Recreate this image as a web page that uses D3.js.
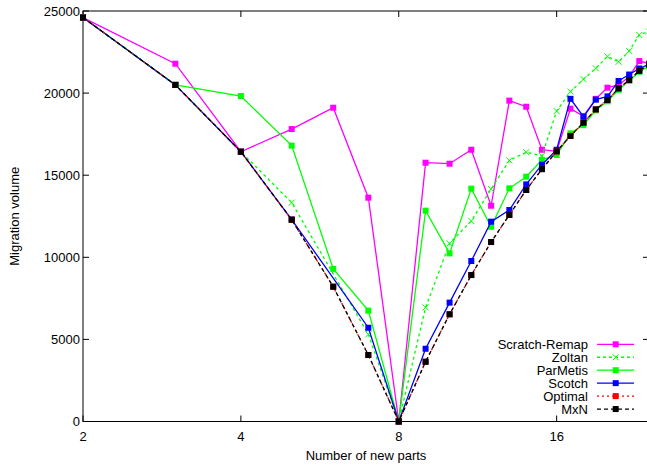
<!DOCTYPE html>
<meta charset="utf-8">
<body>
<script src="https://cdn.jsdelivr.net/npm/d3@7/dist/d3.min.js"></script>
<style>
    html, body {
        margin: 0;
        background: #fff;
    }
    text {
        font-family: "Liberation Sans", Arial, sans-serif;
        font-size: 13px;
        fill: #000;
    }
</style>
<script>
var parts = d3.range(2, 25);

var scratchRemap = [24600, 21790, 16430, 17810, 19110, 13630, 0, 15760, 15700, 16550, 13140, 19540,
    19170, 16550, 16450, 19050, 18600, 19650, 20330, 20500, 21000, 21950, 21800];
var zoltan = [24600, 20500, 16430, 13330, null, 5310, 0, 6950, 10850, 12210, 14160, 15900,
    16400, 16180, 18900, 20090, 20850, 21510, 22240, 21910, 22560, 23540, 23750];
var parMetis = [24600, 20500, 19820, 16800, 9290, 6750, 0, 12840, 10240, 14180, 11860, 14200,
    14910, 15930, 16230, 17550, 18050, 18950, 19500, 20200, 20750, 21300, 21650];
var scotch = [24600, 20500, 16430, 12300, null, 5710, 0, 4430, 7240, 9775, 12170, 12880,
    14440, 15640, 16550, 19650, 18560, 19600, 19800, 20740, 21130, 21500, 21750];
var optimal = [24600, 20500, 16430, 12290, 8210, 4050, 0, 3640, 6530, 8920, 10930, 12580,
    14100, 15370, 16450, 17390, 18200, 19010, 19580, 20290, 20800, 21360, 21750];
var mxn = optimal.slice();

var xTicks = [2, 4, 8, 16];
var yTicks = [0, 5000, 10000, 15000, 20000, 25000];

var series = [
    {name: "Scratch-Remap", values: scratchRemap, color: "#ff00ff", dash: null, mark: "square"},
    {name: "Zoltan", values: zoltan, color: "#00ff00", dash: "3,3", mark: "cross"},
    {name: "ParMetis", values: parMetis, color: "#00ff00", dash: null, mark: "square"},
    {name: "Scotch", values: scotch, color: "#0000ff", dash: null, mark: "square"},
    {name: "Optimal", values: optimal, color: "#ff0000", dash: "2,3", mark: "square"},
    {name: "MxN", values: mxn, color: "#000000", dash: "4,3", mark: "square"}
];

var width = 647, height = 466,
    pl = 83, pr = 649, pt = 11, pb = 421.5;

var x = d3.scaleLog().base(2).domain([2, 24]).range([pl, pr]);
var y = d3.scaleLinear().domain([0, 25000]).range([pb, pt]);

var svg = d3.select("body").append("svg")
    .attr("width", width)
    .attr("height", height);

svg.append("defs").append("clipPath").attr("id", "clip")
    .append("rect")
    .attr("x", pl - 5).attr("y", pt - 5)
    .attr("width", pr - pl + 10).attr("height", pb - pt + 10);

// frame
svg.append("rect")
    .attr("x", pl).attr("y", pt)
    .attr("width", pr - pl).attr("height", pb - pt)
    .attr("fill", "none")
    .attr("stroke", "#000")
    .attr("stroke-width", 1);

// ticks, inward, mirrored
var tl = 6;
xTicks.forEach(function(t) {
    svg.append("line").attr("x1", x(t)).attr("x2", x(t)).attr("y1", pb).attr("y2", pb - tl).attr("stroke", "#000");
    svg.append("line").attr("x1", x(t)).attr("x2", x(t)).attr("y1", pt).attr("y2", pt + tl).attr("stroke", "#000");
    svg.append("text").attr("x", x(t)).attr("y", pb + 19)
        .attr("text-anchor", "middle").text(t);
});
yTicks.forEach(function(t) {
    svg.append("line").attr("x1", pl).attr("x2", pl + tl).attr("y1", y(t)).attr("y2", y(t)).attr("stroke", "#000");
    svg.append("line").attr("x1", pr).attr("x2", pr - tl).attr("y1", y(t)).attr("y2", y(t)).attr("stroke", "#000");
    svg.append("text").attr("x", pl - 3).attr("y", y(t) + 4.5)
        .attr("text-anchor", "end").text(t);
});

svg.append("text")
    .attr("x", 366).attr("y", pb + 38)
    .attr("text-anchor", "middle")
    .text("Number of new parts");
svg.append("text")
    .attr("transform", "translate(19," + ((pt + pb) / 2) + ") rotate(-90)")
    .attr("text-anchor", "middle")
    .text("Migration volume");

var line = d3.line()
    .x(function(d) { return x(d[0]); })
    .y(function(d) { return y(d[1]); });

function marker(g, mk, cx, cy, color) {
    if (mk === "square") {
        g.append("rect")
            .attr("x", cx - 3).attr("y", cy - 3)
            .attr("width", 6).attr("height", 6)
            .attr("fill", color);
    } else {
        g.append("path")
            .attr("d", "M" + (cx - 3) + "," + (cy - 3) + "L" + (cx + 3) + "," + (cy + 3) +
                "M" + (cx - 3) + "," + (cy + 3) + "L" + (cx + 3) + "," + (cy - 3))
            .attr("stroke", color)
            .attr("stroke-width", 1);
    }
}

var plot = svg.append("g").attr("clip-path", "url(#clip)");

series.forEach(function(s) {
    var pts = parts.map(function(p, i) { return [p, s.values[i]]; })
        .filter(function(d) { return d[1] != null; });
    plot.append("path")
        .datum(pts)
        .attr("d", line)
        .attr("fill", "none")
        .attr("stroke", s.color)
        .attr("stroke-width", 1.3)
        .attr("stroke-dasharray", s.dash);
    pts.forEach(function(d) { marker(plot, s.mark, x(d[0]), y(d[1]), s.color); });
});

// legend
var lg = svg.append("g");
series.forEach(function(s, i) {
    var ly = 344.3 + i * 12.95;
    lg.append("text").attr("x", 588).attr("y", ly + 4.5)
        .attr("text-anchor", "end").text(s.name);
    lg.append("line")
        .attr("x1", 597).attr("x2", 634).attr("y1", ly).attr("y2", ly)
        .attr("stroke", s.color).attr("stroke-width", 1.3)
        .attr("stroke-dasharray", s.dash);
    marker(lg, s.mark, 615.7, ly, s.color);
});
</script>
